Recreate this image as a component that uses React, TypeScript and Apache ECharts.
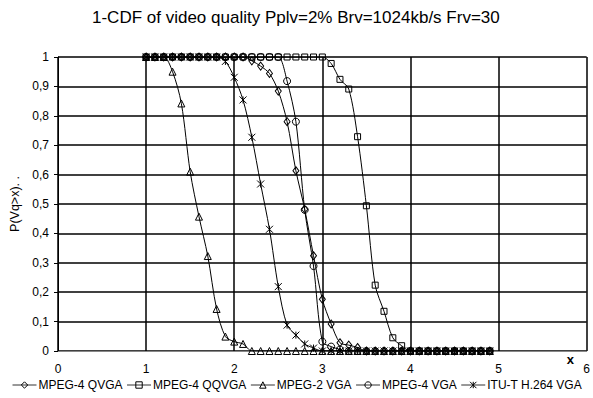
import React, { useEffect, useRef } from "react";
import * as echarts from "echarts";

const titleText = "1-CDF of video quality Pplv=2% Brv=1024kb/s Frv=30";
const yAxisName = "P(Vq>x). .";
const xAxisName = "x";

const xValues = [
  1.0, 1.1, 1.2, 1.3, 1.4, 1.5, 1.6, 1.7, 1.8, 1.9,
  2.0, 2.1, 2.2, 2.3, 2.4, 2.5, 2.6, 2.7, 2.8, 2.9,
  3.0, 3.1, 3.2, 3.3, 3.4, 3.5, 3.6, 3.7, 3.8, 3.9,
  4.0, 4.1, 4.2, 4.3, 4.4, 4.5, 4.6, 4.7, 4.8, 4.9,
];

const mpeg4Qvga = [
  1, 1, 1, 1, 1, 1, 1, 1, 1, 1,
  1, 1, 0.987, 0.969, 0.944, 0.884, 0.78, 0.613, 0.482, 0.324,
  0.176, 0.092, 0.028, 0.02, 0.012, 0, 0, 0, 0, 0,
  0, 0, 0, 0, 0, 0, 0, 0, 0, 0,
];

const mpeg4Qqvga = [
  1, 1, 1, 1, 1, 1, 1, 1, 1, 1,
  1, 1, 1, 1, 1, 1, 1, 1, 1, 1,
  1, 0.978, 0.924, 0.891, 0.729, 0.494, 0.224, 0.135, 0.045, 0.018,
  0, 0, 0, 0, 0, 0, 0, 0, 0, 0,
];

const mpeg2Vga = [
  1, 1, 1, 0.95, 0.842, 0.61, 0.457, 0.323, 0.143, 0.049,
  0.032, 0.024, 0, 0, 0, 0, 0, 0, 0, 0,
  0, 0, 0, 0, 0, 0, 0, 0, 0, 0,
  0, 0, 0, 0, 0, 0, 0, 0, 0, 0,
];

const mpeg4Vga = [
  1, 1, 1, 1, 1, 1, 1, 1, 1, 1,
  1, 1, 1, 1, 1, 1, 0.918, 0.78, 0.48, 0.289,
  0.032, 0.015, 0.005, 0, 0, 0, 0, 0, 0, 0,
  0, 0, 0, 0, 0, 0, 0, 0, 0, 0,
];

const h264Vga = [
  1, 1, 1, 1, 1, 1, 1, 1, 1, 0.985,
  0.931, 0.854, 0.727, 0.568, 0.414, 0.219, 0.088, 0.054, 0.024, 0.01,
  0, 0, 0, 0, 0, 0, 0, 0, 0, 0,
  0, 0, 0, 0, 0, 0, 0, 0, 0, 0,
];

const seriesNames = [
  "MPEG-4 QVGA",
  "MPEG-4 QQVGA",
  "MPEG-2 VGA",
  "MPEG-4 VGA",
  "ITU-T H.264 VGA",
];
const seriesValues = [mpeg4Qvga, mpeg4Qqvga, mpeg2Vga, mpeg4Vga, h264Vga];
const seriesSymbols = [
  "diamond",
  "rect",
  "triangle",
  "circle",
  "path://M0,0L10,10M10,0L0,10M5,0L5,10",
];
const seriesSymbolSizes = [[6, 8], 6, 7, 7, 7];

const FONT = "'Liberation Sans', Arial, sans-serif";
const CLEAR = "rgba(255,255,255,0)";

export default function App() {
  const ref = useRef<HTMLDivElement>(null);

  useEffect(() => {
    document.body.style.margin = "0";
    if (!ref.current) return;
    const chart = echarts.init(ref.current, null, { renderer: "svg" });

    const series = seriesNames.map((name, k) => ({
      name,
      type: "line",
      smooth: 0.3,
      data: xValues.map((x, i) => [x, seriesValues[k][i]]),
      symbol: seriesSymbols[k],
      symbolSize: seriesSymbolSizes[k],
      showAllSymbol: true,
      lineStyle: { color: "#000", width: 1 },
      itemStyle: { color: CLEAR, borderColor: "#000", borderWidth: 1 },
      emphasis: { disabled: true },
    }));

    chart.setOption({
      animation: false,
      backgroundColor: "#fff",
      textStyle: { fontFamily: FONT },
      title: {
        text: titleText,
        left: 92,
        top: 9,
        padding: 0,
        textStyle: { fontFamily: FONT, fontSize: 17, fontWeight: "normal", color: "#000" },
      },
      legend: {
        data: seriesNames,
        left: 12,
        top: 379,
        itemWidth: 24,
        itemHeight: 8,
        itemGap: 4,
        padding: 0,
        itemStyle: { color: CLEAR, borderColor: "#000", borderWidth: 1 },
        lineStyle: { color: "#333", width: 1 },
        textStyle: { fontFamily: FONT, fontSize: 12, color: "#000", padding: [0, 0, 0, -3] },
      },
      grid: { left: 55, right: 6, top: 57, bottom: 47, containLabel: false },
      xAxis: {
        type: "value",
        min: 0,
        max: 6,
        interval: 1,
        name: xAxisName,
        nameLocation: "end",
        nameGap: -20,
        nameTextStyle: {
          fontFamily: FONT,
          fontSize: 13,
          fontWeight: "bold",
          color: "#000",
          verticalAlign: "top",
          padding: [2, 0, 0, 0],
        },
        axisLine: { show: true, lineStyle: { color: "#888", width: 1 } },
        axisTick: { show: false },
        axisLabel: { margin: 12, fontFamily: FONT, fontSize: 12, color: "#000" },
        splitLine: { show: true, lineStyle: { color: "#000", width: 1.5 } },
      },
      yAxis: {
        type: "value",
        min: 0,
        max: 1,
        interval: 0.1,
        name: yAxisName,
        nameLocation: "middle",
        nameGap: 37,
        nameTextStyle: { fontFamily: FONT, fontSize: 12.5, color: "#000" },
        axisLine: { show: true, lineStyle: { color: "#000", width: 1 } },
        axisTick: { show: true, length: 4, lineStyle: { color: "#000" } },
        axisLabel: {
          margin: 9,
          fontFamily: FONT,
          fontSize: 12,
          color: "#000",
          formatter: (v: number) => String(Math.round(v * 10) / 10).replace(".", ","),
        },
        splitLine: { show: true, lineStyle: { color: "#000", width: 1.5 } },
      },
      series,
    });

    return () => chart.dispose();
  }, []);

  return <div ref={ref} style={{ width: 593, height: 398 }} />;
}
